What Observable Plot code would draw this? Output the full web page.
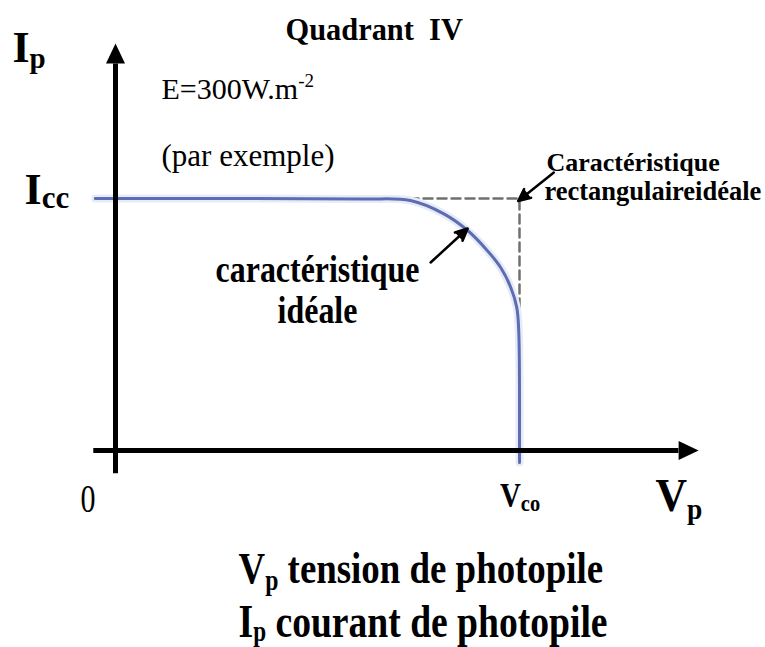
<!DOCTYPE html>
<html>
<head>
<meta charset="utf-8">
<script src="https://cdn.jsdelivr.net/npm/d3@7"></script>
<script src="https://cdn.jsdelivr.net/npm/@observablehq/plot@0.6"></script>
<style>
  html, body { margin: 0; padding: 0; background: #ffffff; }
  #chart svg { display: block; }
</style>
</head>
<body>
<div id="chart"></div>
<script>
// ---- data (arbitrary units: V in volts, I normalised to Icc) ----
const Vco = 0.6;
const Icc = 1.0;

const curveV = [-0.03, 0.364, 0.438, 0.487, 0.523, 0.552, 0.572, 0.587, 0.596, 0.599, 0.600, 0.600];
const curveI = [1.0, 0.998, 0.992, 0.940, 0.873, 0.794, 0.726, 0.647, 0.567, 0.464, 0.0, -0.048];

// ideal rectangular characteristic
const rectV = [0, Vco, Vco];
const rectI = [Icc, Icc, 0];

// axis extents (data units)
const yAxisV = [0, 0];
const yAxisI = [-0.09, 1.536];
const yTip = {v: 0, i: 1.615};
const xAxisV = [-0.033, 0.836];
const xAxisI = [0, 0];
const xTip = {v: 0.866, i: 0};

// annotation arrows
const arrowFromV = [0.651, 0.468];
const arrowFromI = [1.103, 0.746];
const arrowToV = [0.598, 0.523];
const arrowToI = [0.990, 0.881];

// labels
const labelText = [
  "Quadrant\u00a0 IV",
  "I_{p}",
  "E=300W.m^{-2}",
  "(par exemple)",
  "I_{cc}",
  "Caractéristique",
  "rectangulaireidéale",
  "caractéristique",
  "idéale",
  "0",
  "V_{co}",
  "V_{p}",
  "V_{p} tension de photopile",
  "I_{p} courant de photopile"
];
const labelV = [0.2525, -0.153, 0.0683, 0.0683, -0.135, 0.640, 0.637, 0.300, 0.300, -0.052, 0.571, 0.802, 0.1827, 0.1827];
const labelI = [1.627, 1.540, 1.393, 1.127, 0.980, 1.111, 0.996, 0.667, 0.506, -0.246, -0.222, -0.242, -0.524, -0.742];

// ---- styles ----
const labelStyle = [
  {size: 32, weight: "bold", anchor: "start", sx: 0.95},
  {size: 44, weight: "bold", anchor: "start", sx: 1, sub: 29, subDy: 6},
  {size: 30, weight: "normal", anchor: "start", sx: 1, sup: 19, supDy: 12},
  {size: 31, weight: "normal", anchor: "start", sx: 1},
  {size: 44, weight: "bold", anchor: "start", sx: 1, sub: 31, subDy: 4},
  {size: 26, weight: "bold", anchor: "start", sx: 1},
  {size: 26.5, weight: "bold", anchor: "start", sx: 1},
  {size: 38, weight: "bold", anchor: "middle", sx: 0.84},
  {size: 38, weight: "bold", anchor: "middle", sx: 0.84},
  {size: 40, weight: "normal", anchor: "start", sx: 0.75},
  {size: 34, weight: "bold", anchor: "start", sx: 0.85, sub: 24, subDy: 5},
  {size: 46, weight: "bold", anchor: "start", sx: 0.95, sub: 29, subDy: 8},
  {size: 45, weight: "bold", anchor: "start", sx: 0.82, sub: 29, subDy: 7},
  {size: 47, weight: "bold", anchor: "start", sx: 0.8, sub: 29, subDy: 4}
];

const curve = curveV.map((v, k) => ({v, i: curveI[k]}));
const rect = rectV.map((v, k) => ({v, i: rectI[k]}));
const yAxis = [{v1: yAxisV[0], i1: yAxisI[0], v2: yAxisV[1], i2: yAxisI[1]}];
const xAxis = [{v1: xAxisV[0], i1: xAxisI[0], v2: xAxisV[1], i2: xAxisI[1]}];
const arrows = arrowFromV.map((v, k) => ({v1: v, i1: arrowFromI[k], v2: arrowToV[k], i2: arrowToI[k]}));
const labels = labelText.map((t, k) => ({t, v: labelV[k], i: labelI[k], ...labelStyle[k]}));

const arrowHead = {
  draw(ctx) {
    const h = 20, w = 9.5;
    ctx.moveTo(0, 0);
    ctx.lineTo(-w, h);
    ctx.lineTo(w, h);
    ctx.closePath();
  }
};

const FONT = "Liberation Serif, Times New Roman, serif";

const svg = Plot.plot({
  width: 765,
  height: 647,
  margin: 0,
  x: {domain: [0, Vco], range: [115, 519], axis: null},
  y: {domain: [0, Icc], range: [450, 198], axis: null},
  style: {background: "#ffffff"},
  marks: [
    Plot.line(rect, {x: "v", y: "i", stroke: "#707070", strokeWidth: 2.5, strokeDasharray: "9,5"}),
    Plot.line(curve, {x: "v", y: "i", curve: "catmull-rom", stroke: "#e6ebf8", strokeWidth: 8}),
    Plot.line(curve, {x: "v", y: "i", curve: "catmull-rom", stroke: "#5e6db2", strokeWidth: 3}),
    Plot.link(yAxis, {x1: "v1", y1: "i1", x2: "v2", y2: "i2", stroke: "#000", strokeWidth: 5}),
    Plot.link(xAxis, {x1: "v1", y1: "i1", x2: "v2", y2: "i2", stroke: "#000", strokeWidth: 5}),
    Plot.dot([yTip], {x: "v", y: "i", symbol: arrowHead, fill: "#000", stroke: null, rotate: 0}),
    Plot.dot([xTip], {x: "v", y: "i", symbol: arrowHead, fill: "#000", stroke: null, rotate: 90}),
    Plot.arrow(arrows, {x1: "v1", y1: "i1", x2: "v2", y2: "i2", stroke: "#000", fill: "#000", strokeWidth: 2.5, headAngle: 50}),
    ...labels.map(l => Plot.text([l], {
      x: "v", y: "i", text: "t",
      lineAnchor: "bottom",
      textAnchor: l.anchor,
      fontSize: l.size,
      fontWeight: l.weight,
      fontFamily: FONT,
      fill: "#000"
    }))
  ]
});

// subscripts / superscripts and horizontal condensing
const NS = "http://www.w3.org/2000/svg";
svg.querySelectorAll('g[aria-label="text"]').forEach((g, k) => {
  const l = labels[k];
  if (!l) return;
  g.querySelectorAll("text").forEach(t => {
    if (l.sx !== 1) {
      const tr = t.getAttribute("transform") || "";
      t.setAttribute("transform", `${tr} scale(${l.sx},1)`);
    }
    const raw = t.textContent;
    const parts = raw.split(/([_^]\{[^}]*\})/).filter(s => s.length);
    if (parts.length > 1 || /^[_^]\{/.test(raw)) {
      t.textContent = "";
      let shift = 0;
      for (const p of parts) {
        const ts = document.createElementNS(NS, "tspan");
        let target = 0, size = null, txt = p;
        if (p.startsWith("_{")) { target = l.subDy; size = l.sub; txt = p.slice(2, -1); }
        else if (p.startsWith("^{")) { target = -l.supDy; size = l.sup; txt = p.slice(2, -1); }
        if (target - shift !== 0) ts.setAttribute("dy", target - shift);
        shift = target;
        if (size) ts.setAttribute("font-size", size);
        ts.textContent = txt;
        t.appendChild(ts);
      }
    }
  });
});

document.getElementById("chart").appendChild(svg);
</script>
</body>
</html>
